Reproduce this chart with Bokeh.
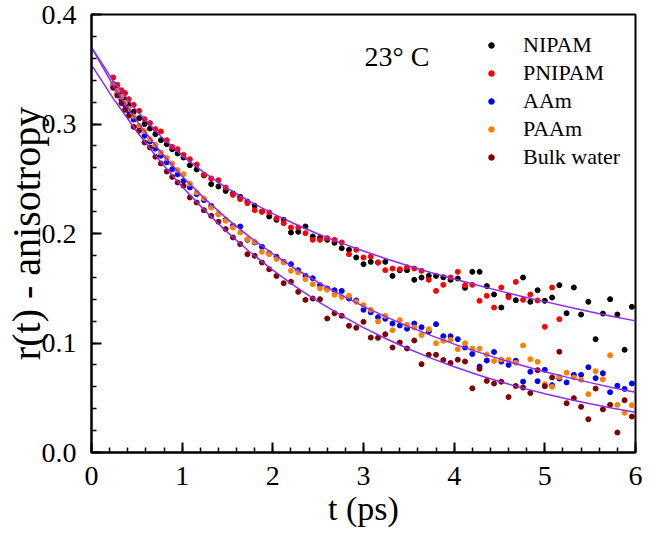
from bokeh.plotting import figure
from bokeh.models import (Legend, LegendItem, Label, FixedTicker,
                          PrintfTickFormatter, Range1d)
from bokeh.embed import file_html
from bokeh.resources import INLINE

# ---- data ----
t = [0.24, 0.285, 0.33, 0.37, 0.41, 0.465, 0.525, 0.585, 0.645, 0.705,
     0.765, 0.83, 0.89, 0.95, 1.015, 1.085, 1.16, 1.24, 1.32, 1.40,
     1.48, 1.56, 1.64, 1.72, 1.80, 1.88, 1.96, 2.04, 2.12, 2.20,
     2.28, 2.36, 2.44, 2.52, 2.60, 2.68, 2.76, 2.84, 2.92, 3.00,
     3.08, 3.16, 3.24, 3.32, 3.40, 3.48, 3.56, 3.64, 3.72, 3.80,
     3.88, 3.96, 4.04, 4.12, 4.20, 4.28, 4.36, 4.44, 4.52, 4.60,
     4.68, 4.76, 4.84, 4.92, 5.00, 5.08, 5.16, 5.24, 5.32, 5.40,
     5.48, 5.56, 5.64, 5.72, 5.80, 5.88, 5.96]

nipam = [0.3364, 0.3315, 0.3260, 0.3225, 0.3176, 0.3111, 0.3053, 0.2999, 0.2959, 0.2907,
         0.2852, 0.2816, 0.2770, 0.2731, 0.2694, 0.2624, 0.2585, 0.2530, 0.2451, 0.2430,
         0.2389, 0.2365, 0.2335, 0.2290, 0.2253, 0.2200, 0.2155, 0.2125, 0.2125, 0.2009,
         0.2015, 0.2064, 0.1973, 0.1960, 0.1942, 0.1915, 0.1866, 0.1851, 0.1781, 0.1720,
         0.1741, 0.1735, 0.1741, 0.1613, 0.1665, 0.1665, 0.1577, 0.1598, 0.1613, 0.1613,
         0.1600, 0.1577, 0.1589, 0.1504, 0.1650, 0.1650, 0.1520, 0.1443, 0.1324, 0.1431,
         0.1391, 0.1598, 0.1376, 0.1482, 0.1385, 0.1415, 0.1528, 0.1272, 0.1507, 0.1260,
         0.1376, 0.1035, 0.1269, 0.1400, 0.1260, 0.0938, 0.1330]

pnipam = [0.3425, 0.3358, 0.3309, 0.3282, 0.3227, 0.3175, 0.3120, 0.3044, 0.3008, 0.2953,
          0.2932, 0.2852, 0.2791, 0.2770, 0.2718, 0.2679, 0.2630, 0.2536, 0.2503, 0.2487,
          0.2420, 0.2353, 0.2314, 0.2277, 0.2213, 0.2198, 0.2192, 0.2137, 0.2094, 0.2055,
          0.2055, 0.2003, 0.1942, 0.1942, 0.1957, 0.1942, 0.1918, 0.1811, 0.1851, 0.1781,
          0.1790, 0.1735, 0.1665, 0.1680, 0.1674, 0.1692, 0.1680, 0.1659, 0.1577, 0.1476,
          0.1531, 0.1598, 0.1650, 0.1528, 0.1531, 0.1385, 0.1431, 0.1324, 0.1507, 0.1418,
          0.1558, 0.1394, 0.1443, 0.1388, 0.1148, 0.1507, 0.1218]

aam = [0.3340, 0.3280, 0.3225, 0.3175, 0.3120, 0.3040, 0.2975, 0.2892, 0.2840, 0.2775,
       0.2710, 0.2650, 0.2587, 0.2540, 0.2480, 0.2420, 0.2359, 0.2305, 0.2252, 0.2178,
       0.2125, 0.2070, 0.2064, 0.1942, 0.1918, 0.1878, 0.1820, 0.1787, 0.1741, 0.1720,
       0.1665, 0.1613, 0.1592, 0.1528, 0.1498, 0.1482, 0.1476, 0.1406, 0.1388, 0.1303,
       0.1280, 0.1236, 0.1221, 0.1178, 0.1160, 0.1130, 0.1178, 0.1144, 0.1108, 0.1172,
       0.1062, 0.1062, 0.1035, 0.0959, 0.0900, 0.0785, 0.0840, 0.0918, 0.0830, 0.0800,
       0.0838, 0.0647, 0.0737, 0.0651, 0.0755, 0.0615, 0.0675, 0.0640, 0.0709, 0.0709,
       0.0779, 0.0679, 0.0724, 0.0551, 0.0610, 0.0581, 0.0630]

paam = [0.3360, 0.3305, 0.3250, 0.3195, 0.3140, 0.3070, 0.2983, 0.2935, 0.2861, 0.2810,
        0.2740, 0.2690, 0.2640, 0.2580, 0.2542, 0.2455, 0.2374, 0.2320, 0.2237, 0.2176,
        0.2116, 0.2055, 0.2009, 0.1948, 0.1924, 0.1833, 0.1811, 0.1766, 0.1735, 0.1659,
        0.1645, 0.1583, 0.1537, 0.1498, 0.1486, 0.1440, 0.1420, 0.1431, 0.1376, 0.1346,
        0.1303, 0.1197, 0.1248, 0.1117, 0.1209, 0.1166, 0.1142, 0.1072, 0.1126, 0.0998,
        0.1020, 0.1029, 0.0944, 0.0998, 0.0950, 0.0948, 0.0896, 0.0836, 0.0849, 0.0846,
        0.0819, 0.0978, 0.0852, 0.0828, 0.0624, 0.0600, 0.0690, 0.0729, 0.0685, 0.0664,
        0.0533, 0.0742, 0.0670, 0.0888, 0.0435, 0.0362, 0.0432]

bulk_water = [0.3330, 0.3260, 0.3190, 0.3130, 0.3075, 0.2974, 0.2938, 0.2831, 0.2785, 0.2701,
              0.2640, 0.2566, 0.2517, 0.2466, 0.2436, 0.2329, 0.2283, 0.2213, 0.2161, 0.2107,
              0.2040, 0.1964, 0.1903, 0.1811, 0.1796, 0.1735, 0.1674, 0.1613, 0.1546, 0.1559,
              0.1467, 0.1394, 0.1406, 0.1400, 0.1224, 0.1272, 0.1248, 0.1157, 0.1139, 0.1193,
              0.1050, 0.1047, 0.1080, 0.0959, 0.1005, 0.0950, 0.1023, 0.0807, 0.0892, 0.0892,
              0.0845, 0.0818, 0.0848, 0.0831, 0.0586, 0.0764, 0.0654, 0.0630, 0.0646, 0.0506,
              0.0608, 0.0593, 0.0543, 0.0752, 0.0606, 0.0686, 0.0920, 0.0450, 0.0496, 0.0417,
              0.0304, 0.0584, 0.0394, 0.0435, 0.0183, 0.0478, 0.0328]

# fitted curves, read at 0.25 ps steps
t_fit = [0.0, 0.25, 0.5, 0.75, 1.0, 1.25, 1.5, 1.75, 2.0, 2.25, 2.5, 2.75, 3.0,
         3.25, 3.5, 3.75, 4.0, 4.25, 4.5, 4.75, 5.0, 5.25, 5.5, 5.75, 6.0]
fit_nipam = [0.3700, 0.3382, 0.3120, 0.2899, 0.2712, 0.2551, 0.2412, 0.2290, 0.2182,
             0.2084, 0.1995, 0.1914, 0.1840, 0.1770, 0.1704, 0.1642, 0.1584, 0.1529,
             0.1476, 0.1425, 0.1378, 0.1331, 0.1286, 0.1243, 0.1202]
fit_aam = [0.3700, 0.3336, 0.3026, 0.2758, 0.2523, 0.2316, 0.2131, 0.1964, 0.1815,
           0.1678, 0.1554, 0.1440, 0.1335, 0.1239, 0.1150, 0.1067, 0.0990, 0.0921,
           0.0855, 0.0794, 0.0738, 0.0686, 0.0638, 0.0592, 0.0550]
fit_bulk = [0.3540, 0.3221, 0.2931, 0.2667, 0.2427, 0.2209, 0.2010, 0.1829, 0.1665,
            0.1515, 0.1378, 0.1254, 0.1141, 0.1039, 0.0945, 0.0860, 0.0783, 0.0712,
            0.0648, 0.0590, 0.0537, 0.0489, 0.0445, 0.0405, 0.0368]

x_ticks = [0, 1, 2, 3, 4, 5, 6]
y_ticks = [0.0, 0.1, 0.2, 0.3, 0.4]

series = [("NIPAM", t, nipam, "#000000"),
          ("PNIPAM", t[:len(pnipam)], pnipam, "#ff0000"),
          ("AAm", t, aam, "#0000ff"),
          ("PAAm", t, paam, "#ff8000"),
          ("Bulk water", t, bulk_water, "#800000")]

FONT = "Liberation Serif"

p = figure(width=643, height=529, x_range=Range1d(0, 6), y_range=Range1d(0, 0.4),
           output_backend="svg", toolbar_location=None, title=None,
           min_border_left=89, min_border_right=8, min_border_top=14,
           min_border_bottom=77)
p.xgrid.visible = False
p.ygrid.visible = False
p.outline_line_color = "black"
p.outline_line_width = 2
p.background_fill_color = "white"
p.border_fill_color = "white"

items = []
for name, xs, ys, col in series:
    r = p.scatter(xs, ys, size=5, color=col, line_color=col)
    items.append(LegendItem(label=name, renderers=[r]))

line_col = "#8b2cf2"
for fy in (fit_nipam, fit_aam, fit_bulk):
    p.line(t_fit, fy, line_color=line_col, line_width=1.5)

p.xaxis.ticker = FixedTicker(ticks=x_ticks, minor_ticks=[i / 5 for i in range(31)])
p.yaxis.ticker = FixedTicker(ticks=y_ticks, minor_ticks=[i / 50 for i in range(21)])
p.xaxis.formatter = PrintfTickFormatter(format="%d")
p.yaxis.formatter = PrintfTickFormatter(format="%.1f")
for ax in (p.xaxis[0], p.yaxis[0]):
    ax.axis_line_width = 2
    ax.axis_line_color = "black"
    ax.major_tick_in = 10
    ax.major_tick_out = 0
    ax.minor_tick_in = 5
    ax.minor_tick_out = 0
    ax.major_tick_line_width = 2
    ax.minor_tick_line_width = 1.5
    ax.major_tick_line_color = "black"
    ax.minor_tick_line_color = "black"
    ax.major_label_text_font = FONT
    ax.major_label_text_font_size = "28px"
    ax.major_label_text_color = "black"
    ax.axis_label_text_font = FONT
    ax.axis_label_text_font_style = "normal"
    ax.axis_label_text_color = "black"

p.xaxis.major_label_standoff = 14
p.yaxis.major_label_standoff = 15
p.xaxis.axis_label = "t (ps)"
p.xaxis.axis_label_text_font_size = "34px"
p.xaxis.axis_label_standoff = 2
p.yaxis.axis_label = "r(t) - anisotropy"
p.yaxis.axis_label_text_font_size = "40px"
p.yaxis.axis_label_standoff = -10

legend = Legend(items=items, location=(393, 281), orientation="vertical",
                glyph_width=14, glyph_height=28, label_height=28, spacing=0,
                padding=0, margin=0, label_standoff=25,
                border_line_color=None, background_fill_alpha=0,
                label_text_font=FONT, label_text_font_size="22px",
                label_text_color="black")
p.add_layout(legend)

# annotation
p.add_layout(Label(x=273, y=396, x_units="screen", y_units="screen", text="23° C",
                   text_font=FONT, text_font_size="28px", text_baseline="middle",
                   text_align="left", text_color="black"))

open("out.html", "w").write(file_html(p, INLINE))
